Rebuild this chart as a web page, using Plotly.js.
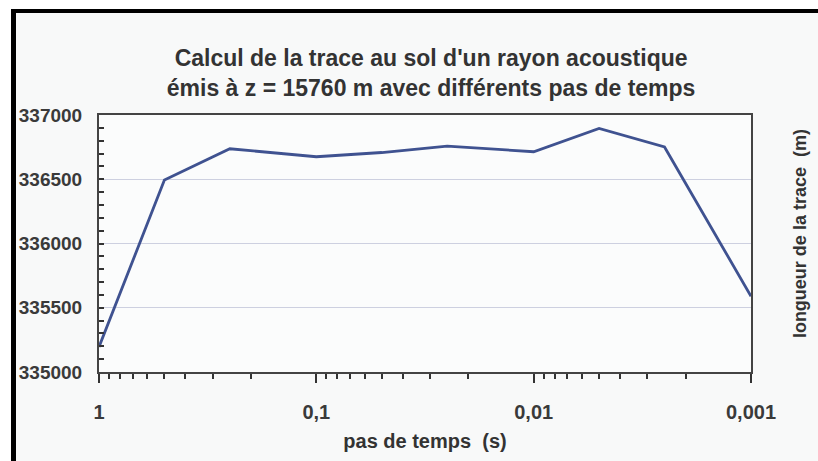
<!DOCTYPE html>
<html>
<head>
<meta charset="utf-8">
<script src="https://cdn.plot.ly/plotly-3.0.1.min.js"></script>
<style>
  html, body { margin: 0; padding: 0; background: #ffffff; }
  #wrap { position: relative; width: 818px; height: 461px; overflow: hidden; }
  #chart { position: absolute; left: 0; top: 0; width: 818px; height: 461px; }
  .edge { position: absolute; background: #000; }
  .white { position: absolute; background: #fff; }
</style>
</head>
<body>
<div id="wrap">
  <div id="chart"></div>
  <div class="white" style="left:0;top:0;width:818px;height:9px;"></div>
  <div class="white" style="left:0;top:0;width:11px;height:461px;"></div>
  <div class="edge" style="left:11px;top:9px;width:807px;height:4px;"></div>
  <div class="edge" style="left:11px;top:9px;width:5px;height:452px;"></div>
</div>
<script>
// time steps (s)
const timeSteps = [1, 0.5, 0.25, 0.1, 0.05, 0.025, 0.01, 0.005, 0.0025, 0.001];
// length of the ground trace (m)
const traceLength = [335195, 336494, 336737, 336675, 336708, 336758, 336714, 336896, 336751, 335590];
// x tick labels
const xTickValues = [1, 0.1, 0.01, 0.001];
const xTickLabels = ['1', '0,1', '0,01', '0,001'];

const titleText = "Calcul de la trace au sol d'un rayon acoustique<br>émis à z = 15760 m avec différents pas de temps";
const xTitle = 'pas de temps  (s)';
const yTitle = 'longueur de la trace  (m)';

const fontFam = 'Liberation Sans, Arial, sans-serif';
const txtCol = '#3a3a3a';

const trace = {
  x: timeSteps,
  y: traceLength,
  type: 'scatter',
  mode: 'lines',
  line: { color: '#3f5290', width: 2.8 },
  hoverinfo: 'x+y'
};

const layout = {
  width: 818,
  height: 461,
  margin: { l: 99, r: 67, t: 115, b: 89 },
  paper_bgcolor: '#f8f9f9',
  plot_bgcolor: '#fbfcfc',
  separators: ', ',
  showlegend: false,
  title: {
    text: titleText,
    font: { family: fontFam, size: 23, color: '#333333', weight: 'bold' },
    x: 0.527,
    xanchor: 'center',
    y: 0.857,
    yanchor: 'middle'
  },
  xaxis: {
    type: 'log',
    range: [0, -3],
    tickmode: 'array',
    tickvals: xTickValues,
    ticktext: xTickLabels,
    ticks: 'outside',
    ticklen: 9,
    tickwidth: 2,
    tickcolor: '#333',
    ticklabelstandoff: 12,
    minor: { ticks: 'outside', ticklen: 5, tickwidth: 2, tickcolor: '#333', dtick: 'D1', showgrid: false },
    showline: true,
    linecolor: '#444',
    linewidth: 2,
    mirror: true,
    showgrid: false,
    zeroline: false,
    tickfont: { family: fontFam, size: 20, color: txtCol, weight: 'bold' },
    title: {
      text: xTitle,
      font: { family: fontFam, size: 20, color: '#333333', weight: 'bold' },
      standoff: 12
    }
  },
  yaxis: {
    range: [335000, 337000],
    tickmode: 'linear',
    tick0: 335000,
    dtick: 500,
    tickformat: 'd',
    ticks: 'inside',
    ticklen: 5,
    tickwidth: 2,
    tickcolor: '#333',
    ticklabelstandoff: 11,
    minor: { ticks: 'inside', ticklen: 5, tickwidth: 2, tickcolor: '#333', dtick: 100, showgrid: false },
    showline: true,
    linecolor: '#444',
    linewidth: 2,
    mirror: true,
    showgrid: true,
    gridcolor: '#cdd0e0',
    gridwidth: 1,
    zeroline: false,
    tickfont: { family: fontFam, size: 19, color: txtCol, weight: 'bold' }
  },
  annotations: [{
    text: yTitle,
    xref: 'paper', yref: 'paper',
    x: 1.075, y: 0.54,
    xanchor: 'center', yanchor: 'middle',
    textangle: -90,
    showarrow: false,
    font: { family: fontFam, size: 18, color: '#333333', weight: 'bold' }
  }]
};

Plotly.newPlot('chart', [trace], layout, { displayModeBar: false, staticPlot: true });
</script>
</body>
</html>
